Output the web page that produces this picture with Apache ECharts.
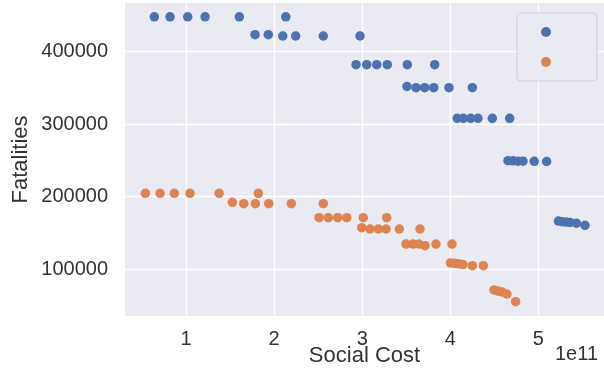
<!DOCTYPE html>
<html>
<head>
<meta charset="utf-8">
<script src="https://cdn.jsdelivr.net/npm/echarts@6/dist/echarts.min.js"></script>
<style>
html,body{margin:0;padding:0;background:#fff;}
#c{width:604px;height:376px;}
</style>
</head>
<body>
<div id="c"></div>
<script>
// Social cost (x) and fatalities (y), series 1 (blue)
var blueCost = [
  0.640e11, 0.818e11, 1.019e11, 1.216e11, 1.605e11, 2.132e11,
  1.783e11, 1.934e11, 2.098e11, 2.245e11, 2.558e11, 2.975e11,
  2.930e11, 3.051e11, 3.165e11, 3.285e11, 3.512e11, 3.823e11,
  3.508e11, 3.611e11, 3.709e11, 3.812e11, 3.985e11, 4.250e11,
  4.079e11, 4.148e11, 4.232e11, 4.314e11, 4.477e11, 4.674e11,
  4.655e11, 4.712e11, 4.768e11, 4.825e11, 4.953e11, 5.094e11,
  5.228e11, 5.268e11, 5.313e11, 5.359e11, 5.432e11, 5.529e11
];
var blueFatal = [
  448000, 448000, 448000, 448000, 448000, 448000,
  423400, 423400, 421600, 421600, 421600, 421600,
  382000, 382000, 382000, 382000, 382000, 382000,
  352000, 350300, 350300, 350300, 350300, 350300,
  308100, 308100, 308100, 308100, 308100, 308100,
  249700, 249500, 249000, 249000, 248800, 248600,
  166500, 165500, 165000, 164500, 163500, 160600
];
// series 2 (orange)
var orangeCost = [
  0.538e11, 0.705e11, 0.867e11, 1.045e11, 1.375e11, 1.821e11,
  1.526e11, 1.655e11, 1.787e11, 1.939e11, 2.195e11, 2.558e11,
  2.510e11, 2.615e11, 2.722e11, 2.824e11, 3.012e11, 3.278e11,
  2.994e11, 3.089e11, 3.183e11, 3.270e11, 3.421e11, 3.656e11,
  3.497e11, 3.577e11, 3.645e11, 3.713e11, 3.837e11, 4.019e11,
  4.002e11, 4.048e11, 4.093e11, 4.144e11, 4.250e11, 4.375e11,
  4.496e11, 4.541e11, 4.587e11, 4.643e11, 4.742e11
];
var orangeFatal = [
  204700, 204700, 204700, 204700, 204700, 204700,
  192300, 190400, 190400, 190400, 190400, 190400,
  171100, 171100, 171100, 171100, 171100, 171100,
  157300, 155500, 155500, 155500, 155500, 155500,
  134800, 134800, 134800, 132500, 134800, 134800,
  108800, 108300, 107500, 106500, 105000, 105000,
  71400, 70000, 68700, 65900, 55300
];
var xTickDivisor = 1e11;
var xOffsetText = '1e11';
var xName = 'Social Cost';
var yName = 'Fatalities';

function pairs(xs, ys) {
  var out = [];
  for (var i = 0; i < xs.length; i++) out.push([xs[i], ys[i]]);
  return out;
}

var FONT = "'Liberation Sans', Arial, sans-serif";
var TXT = '#333333';
var chart = echarts.init(document.getElementById('c'), null, {renderer: 'canvas'});
chart.setOption({
  backgroundColor: '#ffffff',
  animation: false,
  grid: {
    left: 125, right: 0, top: 3, bottom: 60,
    outerBoundsMode: 'none',
    containLabel: false,
    show: true, backgroundColor: '#EAEAF2', borderWidth: 0
  },
  legend: {
    orient: 'vertical',
    left: 517, top: 13,
    padding: [14, 46, 14, 24],
    itemGap: 20,
    itemWidth: 10, itemHeight: 10,
    icon: 'circle',
    backgroundColor: '#EAEAF2',
    borderColor: '#cfcfd6',
    borderWidth: 1,
    borderRadius: 4,
    formatter: function () { return ''; },
    data: ['series A', 'series B']
  },
  xAxis: {
    type: 'value',
    min: 0.307e11, max: 5.745e11,
    splitNumber: 5,
    axisLine: {show: false},
    axisTick: {show: false},
    splitLine: {show: true, showMinLine: false, showMaxLine: false, lineStyle: {color: '#ffffff', width: 1.3}},
    axisLabel: {
      showMinLabel: false, showMaxLabel: false,
      color: TXT, fontSize: 20, fontFamily: FONT, margin: 13,
      formatter: function (v) { return String(Math.round(v / xTickDivisor)); }
    },
    name: xName,
    nameLocation: 'middle',
    nameMoveOverlap: false,
    nameGap: 29,
    nameTextStyle: {color: TXT, fontSize: 22, fontFamily: FONT}
  },
  yAxis: {
    type: 'value',
    min: 35570, max: 467100,
    splitNumber: 5,
    axisLine: {show: false},
    axisTick: {show: false},
    splitLine: {show: true, showMinLine: false, showMaxLine: false, lineStyle: {color: '#ffffff', width: 1.3}},
    axisLabel: {
      showMinLabel: false, showMaxLabel: false,
      color: TXT, fontSize: 20, fontFamily: FONT, margin: 17,
      formatter: function (v) { return String(v); }
    },
    name: yName,
    nameLocation: 'middle',
    nameMoveOverlap: false,
    nameGap: 93,
    nameTextStyle: {color: TXT, fontSize: 22, fontFamily: FONT}
  },
  graphic: [{
    type: 'text',
    right: 6, top: 344,
    style: {text: xOffsetText, fill: TXT, fontSize: 20, fontFamily: FONT}
  }],
  series: [{
    name: 'series A',
    type: 'scatter',
    symbolSize: 9.5,
    itemStyle: {color: '#4C72B0', opacity: 1},
    data: pairs(blueCost, blueFatal)
  }, {
    name: 'series B',
    type: 'scatter',
    symbolSize: 9.5,
    itemStyle: {color: '#DD8452', opacity: 1},
    data: pairs(orangeCost, orangeFatal)
  }]
});
</script>
</body>
</html>
